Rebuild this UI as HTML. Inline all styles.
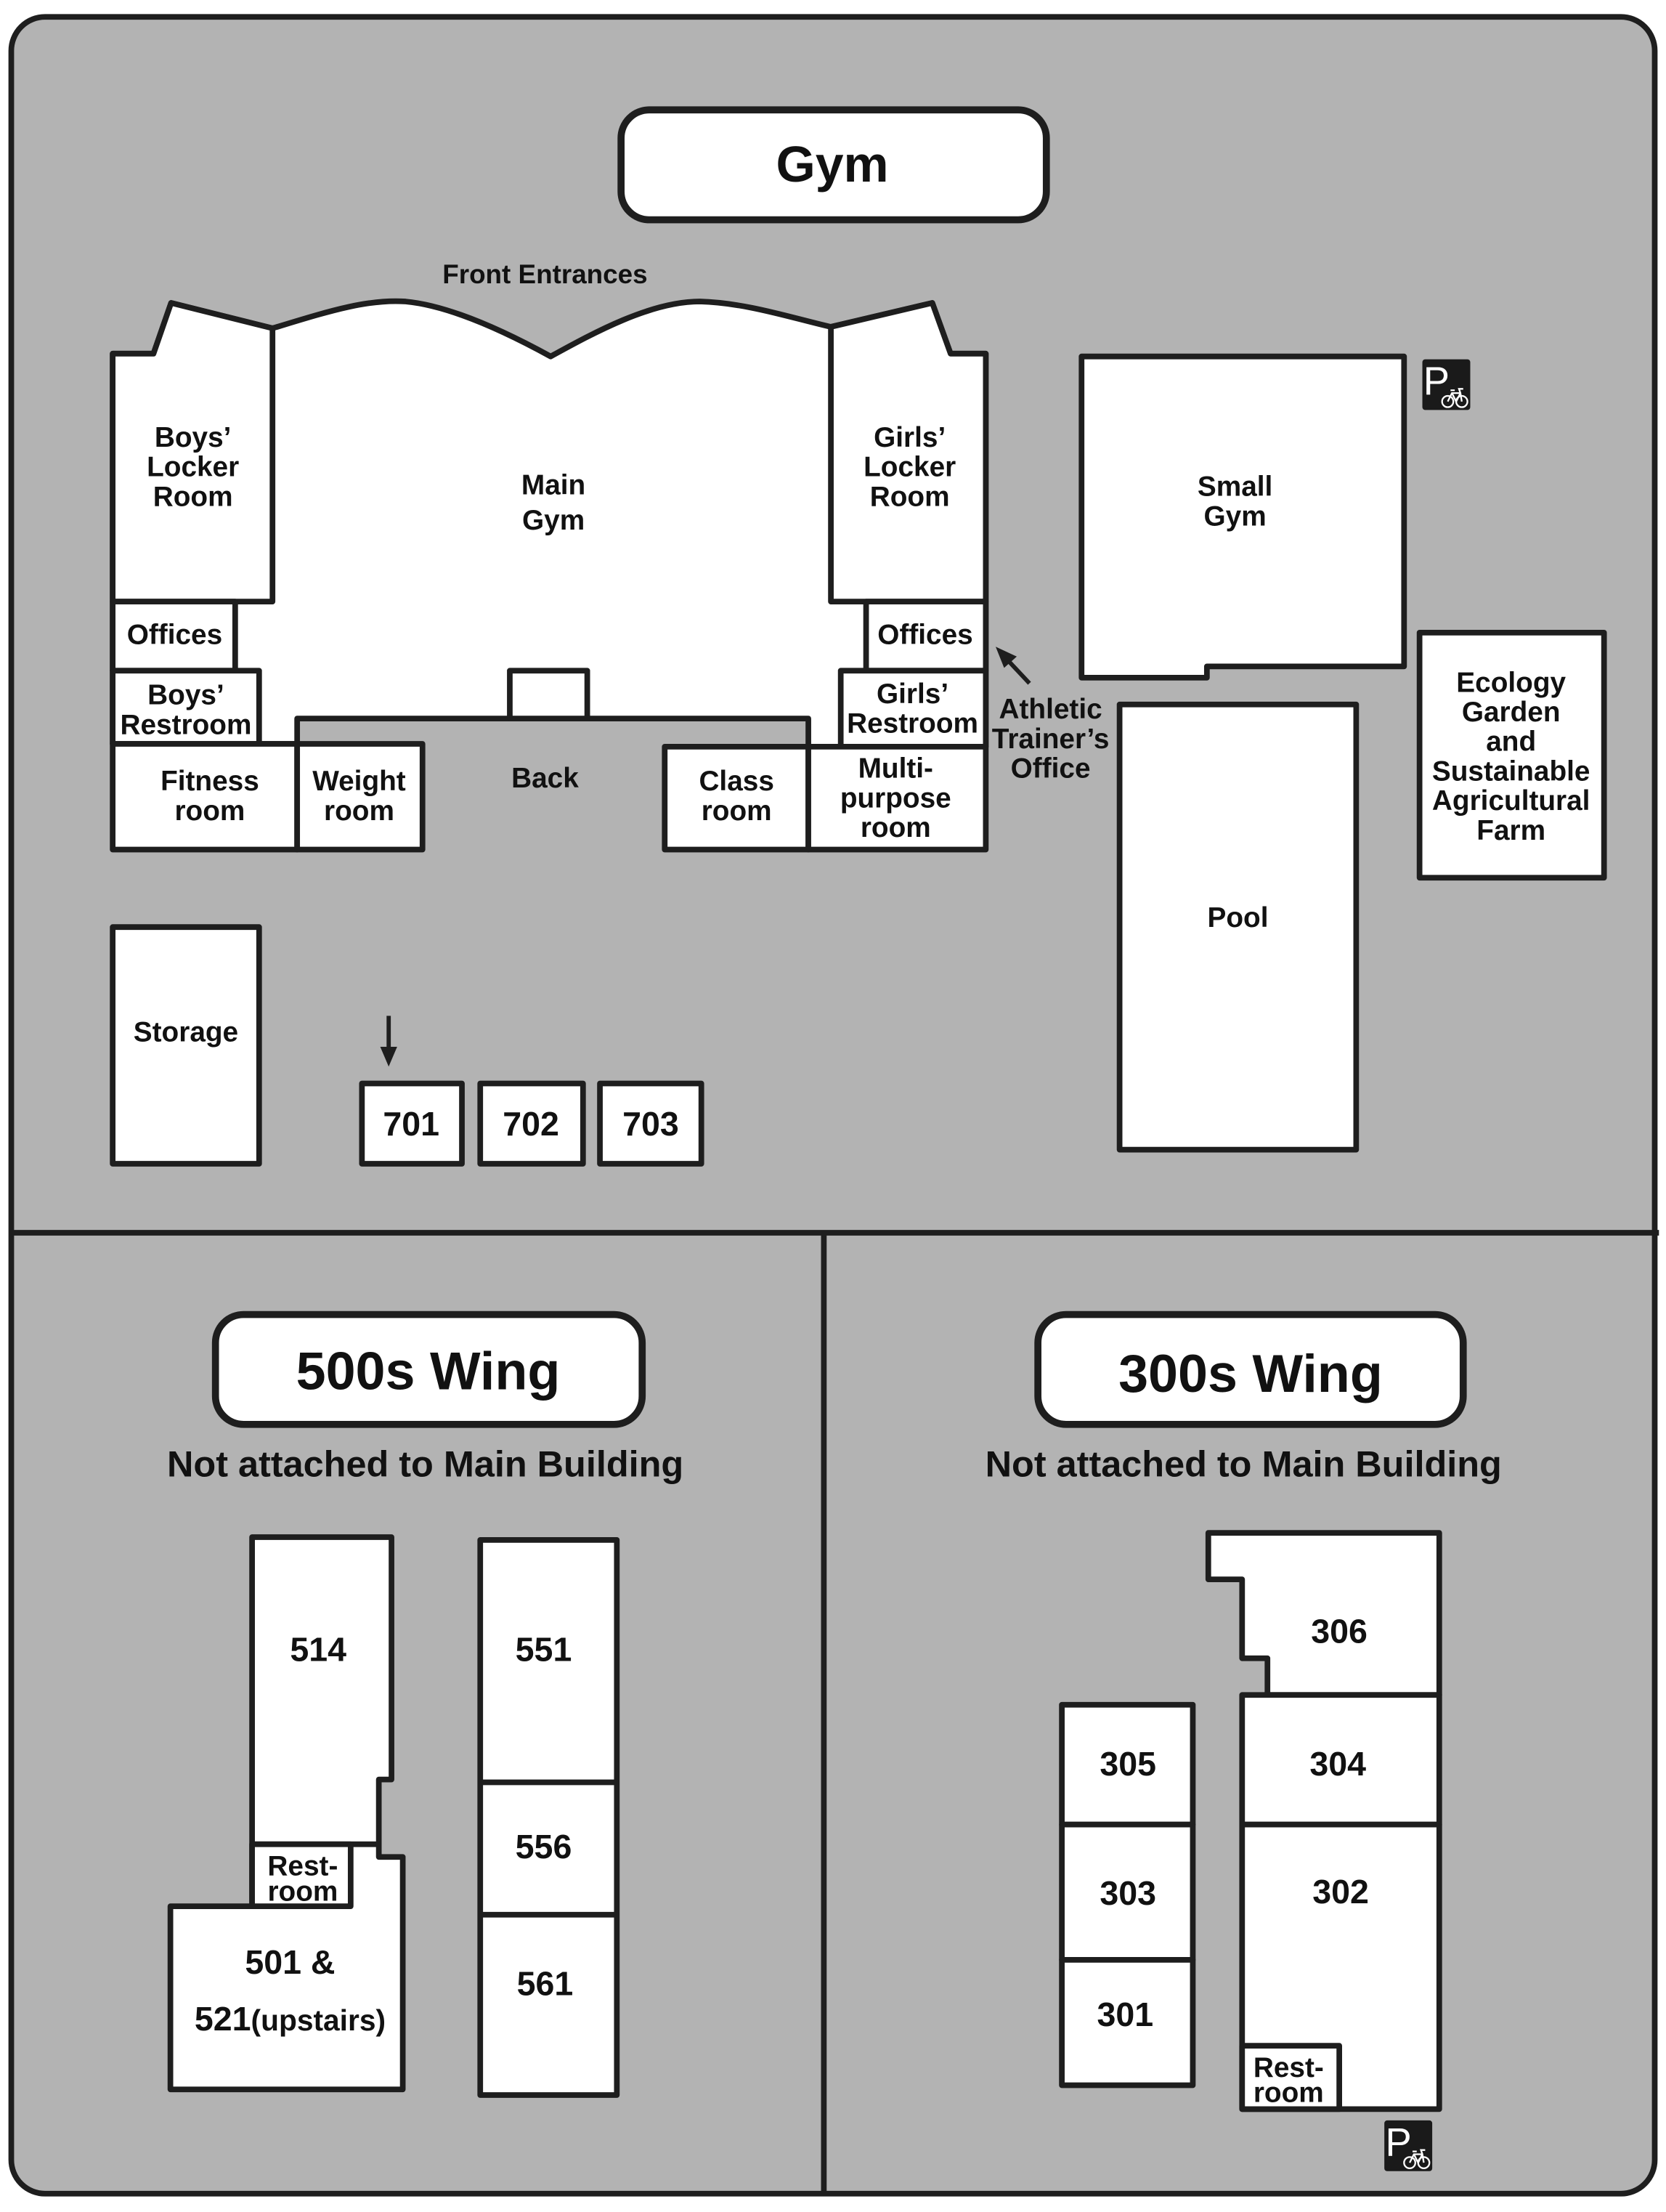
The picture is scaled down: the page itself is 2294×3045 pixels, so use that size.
<!DOCTYPE html>
<html><head><meta charset="utf-8"><style>
html,body{margin:0;padding:0;background:#fff}
svg{display:block}
text{font-family:"Liberation Sans",Arial,sans-serif;font-weight:bold;fill:#111;text-anchor:middle}
</style></head><body>
<svg width="2294" height="3045" viewBox="0 0 1183 1570" preserveAspectRatio="none" xmlns="http://www.w3.org/2000/svg">
<defs>
<g id="pk">
<rect x="0" y="0" width="34" height="36" rx="2" fill="#1a1a1a"/>
<text x="10" y="25" style="fill:#fff;font-size:28px;font-weight:normal">P</text>
<g stroke="#fff" stroke-width="1.2" fill="none">
<circle cx="18" cy="30" r="4"/><circle cx="28" cy="30" r="4"/>
<path d="M18 30 L21 24 L27 24 L28 30 M21 24 L24 30 L27 24 M20 22 L23 22 M27 24 L26 21 L29 21"/>
</g>
</g>
</defs>
<rect x="0" y="0" width="1183" height="1570" fill="#fff"/>
<rect x="8" y="12" width="1167" height="1545" rx="24" fill="#b3b3b3" stroke="#1e1e1e" stroke-width="4"/>
<line x1="8" y1="875" x2="1178" y2="875" stroke="#1e1e1e" stroke-width="4"/>
<line x1="585" y1="875" x2="585" y2="1557" stroke="#1e1e1e" stroke-width="4"/>

<rect x="441" y="78" width="302" height="78" rx="20" fill="#fff" stroke="#1e1e1e" stroke-width="5"/>
<text x="591" y="129" style="font-size:36px">Gym</text>
<text x="387" y="201" style="font-size:19px">Front Entrances</text>

<g stroke="#1e1e1e" stroke-width="4" fill="#fff" stroke-linejoin="round">
<path d="M80 251 L109 251 L121.5 215 L193.5 233 C230 222 260 212 288 214 C320 217 360 236 391 253 C422 236 462 214 497 214 C530 215 560 225 590 232 L662 215 L675 251 L700 251 L700 530 L574 530 L574 510 L211 510 L211 528 L80 528 Z"/>
<path d="M80 251 L109 251 L121.5 215 L193.5 233 L193.5 427 L80 427 Z"/>
<path d="M590 232 L662 215 L675 251 L700 251 L700 427 L590 427 Z"/>
<rect x="80" y="427" width="87" height="49"/>
<rect x="615" y="427" width="85" height="49"/>
<rect x="80" y="476" width="104" height="52"/>
<rect x="597" y="476" width="103" height="54"/>
<rect x="362" y="476" width="55" height="34"/>
<rect x="80" y="528" width="131" height="75"/>
<rect x="211" y="528" width="89" height="75"/>
<rect x="472" y="530" width="102" height="73"/>
<rect x="574" y="530" width="126" height="73"/>
<path d="M768 253 L997 253 L997 473 L857 473 L857 481 L768 481 Z"/>
<rect x="1008" y="449" width="131" height="174"/>
<rect x="795" y="500" width="168" height="316"/>
<rect x="80" y="658" width="104" height="168"/>
<rect x="257" y="769" width="71" height="57"/>
<rect x="341" y="769" width="73" height="57"/>
<rect x="426" y="769" width="72" height="57"/>

<rect x="153" y="933" width="303" height="78" rx="20" stroke-width="5"/>
<rect x="737" y="933" width="302" height="78" rx="20" stroke-width="5"/>

<path d="M179 1091 L278 1091 L278 1263 L269 1263 L269 1318 L286 1318 L286 1483 L121 1483 L121 1353 L179 1353 Z"/>
<line x1="179" y1="1309" x2="269" y2="1309"/>
<rect x="179" y="1309" width="70" height="44"/>
<rect x="341" y="1093" width="97" height="394"/>
<line x1="341" y1="1265" x2="438" y2="1265"/>
<line x1="341" y1="1359" x2="438" y2="1359"/>

<path d="M858 1088 L1022 1088 L1022 1203 L900 1203 L900 1177 L882 1177 L882 1121 L858 1121 Z"/>
<rect x="882" y="1203" width="140" height="92"/>
<rect x="882" y="1295" width="140" height="202"/>
<rect x="882" y="1452" width="69" height="45"/>
<rect x="754" y="1210" width="93" height="85"/>
<rect x="754" y="1295" width="93" height="96"/>
<rect x="754" y="1391" width="93" height="89"/>
</g>

<use href="#pk" x="1010" y="255"/>
<use href="#pk" x="983" y="1505"/>

<g stroke="#1e1e1e" stroke-width="3" fill="#1e1e1e">
<line x1="276" y1="721" x2="276" y2="745"/>
<path d="M270 743 L282 743 L276 757 Z" stroke="none"/>
<line x1="731" y1="485" x2="716" y2="469"/>
<path d="M707 459 L722 466 L713 474 Z" stroke="none"/>
</g>

<g style="font-size:20px">
<text x="137" y="317">Boys’</text><text x="137" y="338">Locker</text><text x="137" y="359">Room</text>
<text x="646" y="317">Girls’</text><text x="646" y="338">Locker</text><text x="646" y="359">Room</text>
<text x="393" y="351">Main</text><text x="393" y="376">Gym</text>
<text x="124" y="457">Offices</text>
<text x="657" y="457">Offices</text>
<text x="132" y="500">Boys’</text><text x="132" y="521">Restroom</text>
<text x="648" y="499">Girls’</text><text x="648" y="520">Restroom</text>
<text x="149" y="561">Fitness</text><text x="149" y="582">room</text>
<text x="255" y="561">Weight</text><text x="255" y="582">room</text>
<text x="387" y="559">Back</text>
<text x="523" y="561">Class</text><text x="523" y="582">room</text>
<text x="636" y="552">Multi-</text><text x="636" y="573">purpose</text><text x="636" y="594">room</text>
<text x="746" y="510">Athletic</text><text x="746" y="531">Trainer’s</text><text x="746" y="552">Office</text>
<text x="877" y="352">Small</text><text x="877" y="373">Gym</text>
<text x="1073" y="491">Ecology</text><text x="1073" y="512">Garden</text><text x="1073" y="533">and</text><text x="1073" y="554">Sustainable</text><text x="1073" y="575">Agricultural</text><text x="1073" y="596">Farm</text>
<text x="879" y="658">Pool</text>
<text x="132" y="739">Storage</text>
</g>
<g style="font-size:24px">
<text x="292" y="806">701</text><text x="377" y="806">702</text><text x="462" y="806">703</text>
<text x="226" y="1179">514</text>
<text x="386" y="1179">551</text>
<text x="386" y="1319">556</text>
<text x="387" y="1416">561</text>
<text x="206" y="1401">501 &amp;</text>
<text x="951" y="1166">306</text>
<text x="950" y="1260">304</text>
<text x="952" y="1351">302</text>
<text x="801" y="1260">305</text>
<text x="801" y="1352">303</text>
<text x="799" y="1438">301</text>
</g>
<text x="206" y="1441" style="font-size:24px">521<tspan style="font-size:21px">(upstairs)</tspan></text>
<g style="font-size:20px">
<text x="215" y="1331">Rest-</text><text x="215" y="1349">room</text>
<text x="915" y="1474">Rest-</text><text x="915" y="1492">room</text>
</g>
<text x="304" y="986" style="font-size:38px">500s Wing</text>
<text x="888" y="988" style="font-size:38px">300s Wing</text>
<text x="302" y="1048" style="font-size:26px">Not attached to Main Building</text>
<text x="883" y="1048" style="font-size:26px">Not attached to Main Building</text>
</svg>
</body></html>
